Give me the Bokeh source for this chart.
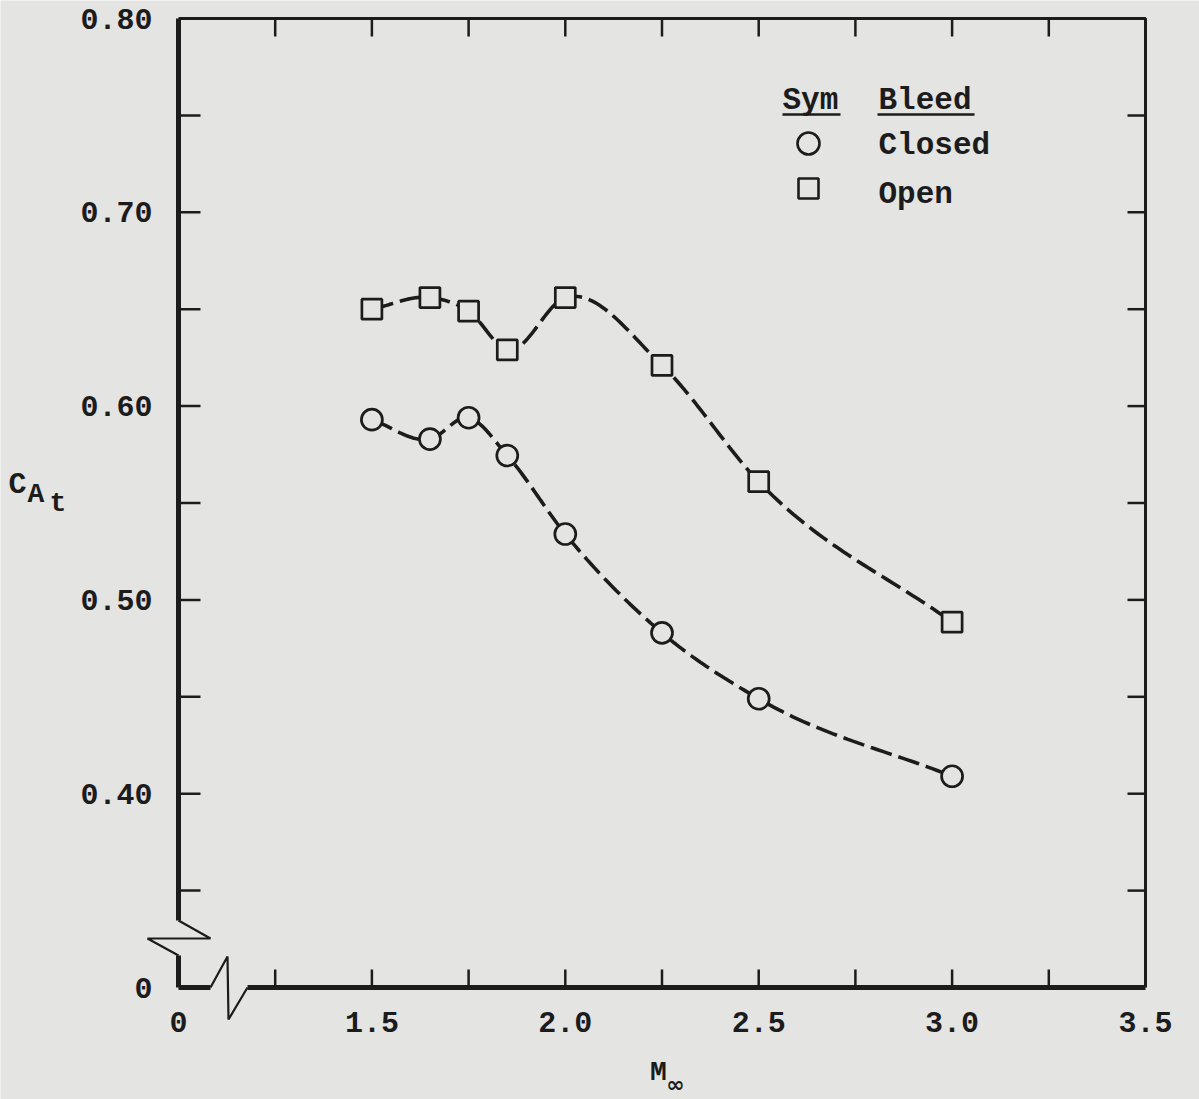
import numpy as np
from bokeh.plotting import figure
from bokeh.models import Range1d
from bokeh.core.properties import value
from bokeh.embed import file_html
from bokeh.resources import INLINE

# ---------------- data ----------------
mach = [1.5, 1.65, 1.75, 1.85, 2.0, 2.25, 2.5, 3.0]
ca_closed = [0.593, 0.583, 0.594, 0.5745, 0.534, 0.483, 0.449, 0.409]
ca_open = [0.650, 0.656, 0.649, 0.629, 0.656, 0.621, 0.561, 0.4885]

x_tick_pos = [1.0, 1.5, 2.0, 2.5, 3.0, 3.5]
x_tick_lab = ["0", "1.5", "2.0", "2.5", "3.0", "3.5"]
y_tick_pos = [0.30, 0.40, 0.50, 0.60, 0.70, 0.80]
y_tick_lab = ["0", "0.40", "0.50", "0.60", "0.70", "0.80"]
x_minor = [1.25, 1.5, 1.75, 2.0, 2.25, 2.5, 2.75, 3.0, 3.25]
y_minor = [0.35, 0.40, 0.45, 0.50, 0.55, 0.60, 0.65, 0.70, 0.75]

X0, X1 = 1.0, 3.5
Y0, Y1 = 0.30, 0.80

BG = "#e4e4e2"
INK = "#1c1c1c"
FONT = value("Liberation Mono")

W, H = 1199, 1099
PXX = 386.8   # px per unit x
PXY = 1938.0  # px per unit y
xr0 = X0 - 178 / PXX
yr1 = Y1 + 18 / PXY
p = figure(width=W, height=H, output_backend="svg", toolbar_location=None,
           x_range=Range1d(xr0, xr0 + W / PXX), y_range=Range1d(yr1 - H / PXY, yr1),
           min_border=0, min_border_left=0, min_border_right=0,
           min_border_top=0, min_border_bottom=0)
p.axis.visible = False
p.grid.visible = False
p.outline_line_color = None
p.background_fill_color = BG
p.border_fill_color = BG


def dx(px):
    return px / PXX


def dy(px):
    return px / PXY


# ---------------- smooth faired curve (Hermite through data) ----------------
def faired(xs, ys, n=40):
    xs = np.asarray(xs, float)
    ys = np.asarray(ys, float)
    k = len(xs)
    m = np.zeros(k)
    for i in range(k):
        if i == 0:
            m[i] = (ys[1] - ys[0]) / (xs[1] - xs[0])
        elif i == k - 1:
            m[i] = (ys[-1] - ys[-2]) / (xs[-1] - xs[-2])
        else:
            h0 = xs[i] - xs[i - 1]
            h1 = xs[i + 1] - xs[i]
            s0 = (ys[i] - ys[i - 1]) / h0
            s1 = (ys[i + 1] - ys[i]) / h1
            m[i] = (s0 * h1 + s1 * h0) / (h0 + h1)
    ox, oy = [], []
    for i in range(k - 1):
        h = xs[i + 1] - xs[i]
        t = np.linspace(0, 1, n, endpoint=(i == k - 2))
        h00 = 2 * t**3 - 3 * t**2 + 1
        h10 = t**3 - 2 * t**2 + t
        h01 = -2 * t**3 + 3 * t**2
        h11 = t**3 - t**2
        ox.extend(xs[i] + t * h)
        oy.extend(h00 * ys[i] + h10 * h * m[i] + h01 * ys[i + 1] + h11 * h * m[i + 1])
    return ox, oy


cx, cy = faired(mach, ca_closed)
ox, oy = faired(mach, ca_open)
p.line(cx, cy, line_color=INK, line_width=3.6, line_dash="22 7")
p.line(ox, oy, line_color=INK, line_width=3.6, line_dash="22 7")

p.scatter(mach, ca_closed, marker="circle", size=21, fill_color=BG,
          line_color=INK, line_width=2.7)
p.scatter(mach, ca_open, marker="square", size=20, fill_color=BG,
          line_color=INK, line_width=2.7)

# ---------------- frame with axis breaks ----------------
# left axis (thick)
p.line([X0, X0], [Y1, Y0 + dy(67)], line_color=INK, line_width=5)
p.line([X0, X0 + dx(32), X0 - dx(31), X0], [Y0 + dy(67), Y0 + dy(49), Y0 + dy(49), Y0 + dy(32)],
       line_color=INK, line_width=2.2)
p.line([X0, X0], [Y0 + dy(32), Y0], line_color=INK, line_width=5)
# bottom axis (thick)
p.line([X0, X0 + dx(32)], [Y0, Y0], line_color=INK, line_width=5)
p.line([X0 + dx(32), X0 + dx(49), X0 + dx(50), X0 + dx(69)],
       [Y0, Y0 + dy(31), Y0 - dy(32), Y0], line_color=INK, line_width=2.2)
p.line([X0 + dx(69), X1], [Y0, Y0], line_color=INK, line_width=5)
# top & right
p.line([X0, X1, X1], [Y1, Y1, Y0], line_color=INK, line_width=3)

# inward ticks
p.segment(x0=[X0] * len(y_minor), y0=y_minor, x1=[X0 + dx(22)] * len(y_minor), y1=y_minor,
          line_color=INK, line_width=2.5)
p.segment(x0=[X1] * len(y_minor), y0=y_minor, x1=[X1 - dx(18)] * len(y_minor), y1=y_minor,
          line_color=INK, line_width=2.5)
p.segment(x0=x_minor, y0=[Y1] * len(x_minor), x1=x_minor, y1=[Y1 - dy(18)] * len(x_minor),
          line_color=INK, line_width=2.5)
p.segment(x0=x_minor, y0=[Y0] * len(x_minor), x1=x_minor, y1=[Y0 + dy(18)] * len(x_minor),
          line_color=INK, line_width=2.5)

# tick labels
p.text(x=[X0 - dx(26)] * len(y_tick_pos), y=y_tick_pos, text=y_tick_lab,
       text_font=FONT, text_font_size="30px", text_font_style="bold",
       text_color=INK, text_align="right", text_baseline="middle")
p.text(x=x_tick_pos, y=[Y0 - dy(34)] * len(x_tick_pos), text=x_tick_lab,
       text_font=FONT, text_font_size="30px", text_font_style="bold",
       text_color=INK, text_align="center", text_baseline="middle")

# axis titles
p.text(x=[X0 - dx(170)], y=[Y1 - dy(466)], text=["C"], text_font=FONT,
       text_font_size="30px", text_font_style="bold", text_color=INK,
       text_align="left", text_baseline="alphabetic")
p.text(x=[X0 - dx(151)], y=[Y1 - dy(476)], text=["A"], text_font=FONT,
       text_font_size="28px", text_font_style="bold", text_color=INK,
       text_align="left", text_baseline="alphabetic")
p.text(x=[X0 - dx(129)], y=[Y1 - dy(485)], text=["t"], text_font=FONT,
       text_font_size="28px", text_font_style="bold", text_color=INK,
       text_align="left", text_baseline="alphabetic")
p.text(x=[X0 + dx(480)], y=[Y0 - dy(85)], text=["M"], text_font=FONT,
       text_font_size="28px", text_font_style="bold", text_color=INK,
       text_align="center", text_baseline="alphabetic")
p.text(x=[X0 + dx(497)], y=[Y0 - dy(97)], text=["\u221e"], text_font=value("DejaVu Sans"),
       text_font_size="22px", text_font_style="bold", text_color=INK,
       text_align="center", text_baseline="alphabetic")

# legend
LX = X0 + dx(604)
TX = X0 + dx(700)
p.text(x=[LX, TX], y=[Y1 - dy(82)] * 2, text=["Sym", "Bleed"], text_font=FONT,
       text_font_size="31px", text_font_style="bold", text_color=INK,
       text_align="left", text_baseline="middle")
p.segment(x0=[LX, TX - dx(1)], y0=[Y1 - dy(96)] * 2, x1=[LX + dx(58), TX + dx(96)],
          y1=[Y1 - dy(96)] * 2, line_color=INK, line_width=2.5)
p.scatter([LX + dx(26)], [Y1 - dy(125)], marker="circle", size=22, fill_color=BG,
          line_color=INK, line_width=2.6)
p.scatter([LX + dx(26)], [Y1 - dy(170)], marker="square", size=20, fill_color=BG,
          line_color=INK, line_width=2.6)
p.text(x=[TX, TX], y=[Y1 - dy(127), Y1 - dy(176)], text=["Closed", "Open"], text_font=FONT,
       text_font_size="31px", text_font_style="bold", text_color=INK,
       text_align="left", text_baseline="middle")

open("out.html", "w").write(file_html(p, INLINE))
